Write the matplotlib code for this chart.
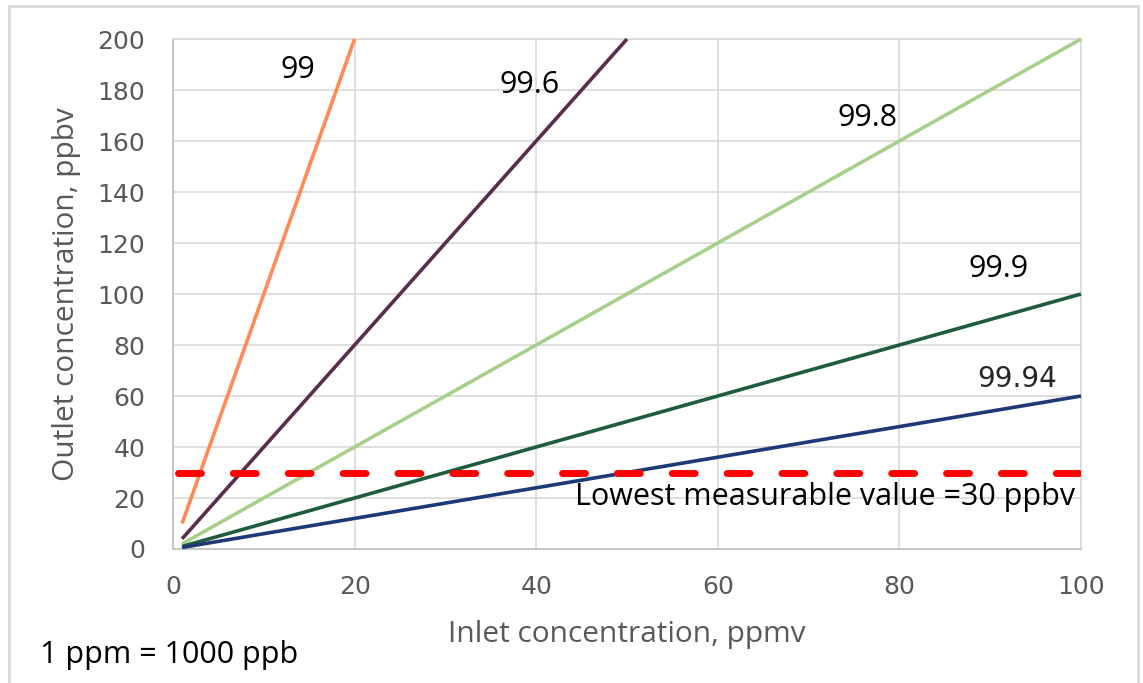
import matplotlib.pyplot as plt
from matplotlib.patches import Rectangle

# removal efficiency (%) curves: inlet ppmv -> outlet ppbv
labels = ["99", "99.6", "99.8", "99.9", "99.94"]
inlet = [
    [1, 20],
    [1, 50],
    [1, 100],
    [1, 100],
    [1, 100],
]
outlet = [
    [10, 200],
    [4, 200],
    [2, 200],
    [1, 100],
    [0.6, 60],
]
colors = ["#FF8A55", "#5A2D4C", "#A8D08D", "#1F5C3E", "#1F3877"]

detect_x = [0.6, 100]
detect_y = [30, 30]

# where each series name sits (data coords)
label_x = [13.7, 39.3, 76.5, 90.9, 93.0]
label_y = [188, 182, 169, 110, 66.5]

fig = plt.figure(figsize=(11.43, 6.83), dpi=100)
ax = fig.add_axes([173 / 1143, 1 - 549 / 683, 908 / 1143, 510 / 683])

for xs, ys, c in zip(inlet, outlet, colors):
    ax.plot(xs, ys, color=c, lw=2.6, solid_capstyle="butt", clip_on=False, zorder=3)

ax.plot(detect_x, detect_y, color="#FF0000", lw=5, linestyle=(0, (3.3, 4.6)),
        dash_capstyle="round", zorder=4)

ax.set_xlim(0, 100)
ax.set_ylim(0, 200)
ax.set_xticks(range(0, 101, 20))
ax.set_yticks(range(0, 201, 20))
ax.grid(True, color="#D9D9D9", lw=1.2)
ax.set_axisbelow(True)
ax.tick_params(length=0, labelsize=18, colors="#595959")
ax.tick_params(axis="y", pad=20)
ax.tick_params(axis="x", pad=19)
for s in ax.spines.values():
    s.set_color("#D9D9D9")
    s.set_linewidth(1.2)
ax.spines["left"].set_color("#BFBFBF")
ax.spines["bottom"].set_color("#BFBFBF")

ax.set_xlabel("Inlet concentration, ppmv", fontsize=21.5, color="#595959",
              family="Open Sans", labelpad=15)
ax.set_ylabel("Outlet concentration, ppbv", fontsize=21.5, color="#595959",
              family="Open Sans", labelpad=12)

for name, lx, ly in zip(labels[:4], label_x, label_y):
    ax.text(lx, ly, name, fontsize=22, family="Open Sans", ha="center", va="center")
ax.text(label_x[4], label_y[4], labels[4], fontsize=20, color="#262626",
        ha="center", va="center")
ax.text(71.8, 20.5, "Lowest measurable value =30 ppbv", fontsize=22,
        family="Open Sans", ha="center", va="center")

fig.text(40 / 1143, 1 - 655 / 683, "1 ppm = 1000 ppb", fontsize=22,
         family="Open Sans", ha="left", va="center")

fig.patches.append(Rectangle((9 / 1143, -0.05), 1129 / 1143, 1 - 6 / 683 + 0.05,
                             transform=fig.transFigure, fill=False,
                             edgecolor="#D9D9D9", lw=2))

fig.savefig("out.png", dpi=100)
